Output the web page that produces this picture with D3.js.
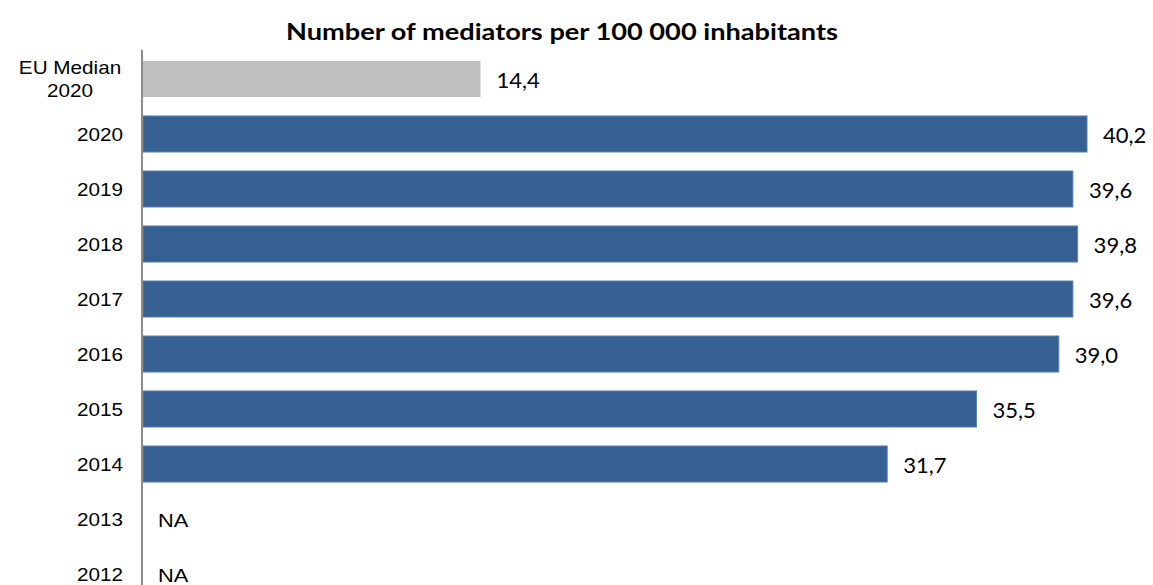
<!DOCTYPE html>
<html><head><meta charset="utf-8">
<script src="https://cdn.jsdelivr.net/npm/d3@7"></script>
<style>body{margin:0;background:#fff}svg{display:block}</style>
</head><body>
<svg id="c" width="1153" height="585"></svg>
<script>
const categories = ["EU Median 2020","2020","2019","2018","2017","2016","2015","2014","2013","2012"];
const values = [14.4, 40.2, 39.6, 39.8, 39.6, 39.0, 35.5, 31.7, null, null];
const valueLabels = ["14,4","40,2","39,6","39,8","39,6","39,0","35,5","31,7","NA","NA"];
const title = "Number of mediators per 100 000 inhabitants";

const svg = d3.select("#c");
const x0 = 142;
const x = d3.scaleLinear().domain([0, 40.2]).range([x0, 1087]);
const y = d3.scaleBand().domain(categories).range([51.5, 601.5]).paddingInner(0.345).paddingOuter(0.1725);

svg.append("text").attr("x", 286).attr("y", 40)
  .attr("textLength", 552).attr("lengthAdjust", "spacingAndGlyphs")
  .style("font-family", "Lato, 'Open Sans', sans-serif").style("font-weight", "bold").style("font-size", "22px")
  .text(title);

svg.selectAll("rect.bar").data(categories).enter().append("rect")
  .attr("x", x0 + 1)
  .attr("y", d => y(d))
  .attr("height", y.bandwidth())
  .attr("width", (d, i) => values[i] == null ? 0 : x(values[i]) - x0 - 1)
  .attr("fill", (d, i) => i === 0 ? "#bfbfbf" : "#376092")
  .attr("stroke", (d, i) => i === 0 ? "none" : "#5b7fae")
  .attr("stroke-width", 1)
  .style("display", (d, i) => values[i] == null ? "none" : null);

svg.selectAll("text.val").data(categories).enter().append("text")
  .attr("transform", (d, i) => `translate(${values[i] == null ? 158 : x(values[i]) + 16},${y(d) + y.bandwidth() / 2 + (values[i] == null ? 7.5 : 9)}) scale(${values[i] == null ? 1.15 : 1.05},1)`)
  .style("font-family", (d, i) => values[i] == null ? "'Liberation Sans', Arial, sans-serif" : "Lato, 'Open Sans', sans-serif")
  .style("font-size", (d, i) => values[i] == null ? "19px" : "21px")
  .attr("fill", "#000")
  .text((d, i) => valueLabels[i]);

const yAxis = d3.axisLeft(y).tickSize(0).tickPadding(19);
const ag = svg.append("g").attr("transform", `translate(${x0},0)`).call(yAxis);
ag.select(".domain").remove();
ag.selectAll(".tick text")
  .style("font-family", "'Liberation Sans', Arial, sans-serif").style("font-size", "18px").attr("fill", "#000")
  .attr("x", 0).attr("dy", null).attr("y", 6.5)
  .attr("transform", "translate(-19,0) scale(1.15,1)")
  .each(function(d) {
    if (d === "EU Median 2020") {
      const t = d3.select(this);
      t.text(null).attr("text-anchor", "middle").attr("y", null)
        .attr("transform", "translate(-72,0) scale(1.15,1)");
      t.append("tspan").attr("x", 0).attr("y", -5).text("EU Median");
      t.append("tspan").attr("x", 0).attr("y", 18).text("2020");
    }
  });

svg.append("line").attr("x1", x0).attr("x2", x0).attr("y1", 50).attr("y2", 585)
  .attr("stroke", "#8c8c8c").attr("stroke-width", 2);
</script>
</body></html>
